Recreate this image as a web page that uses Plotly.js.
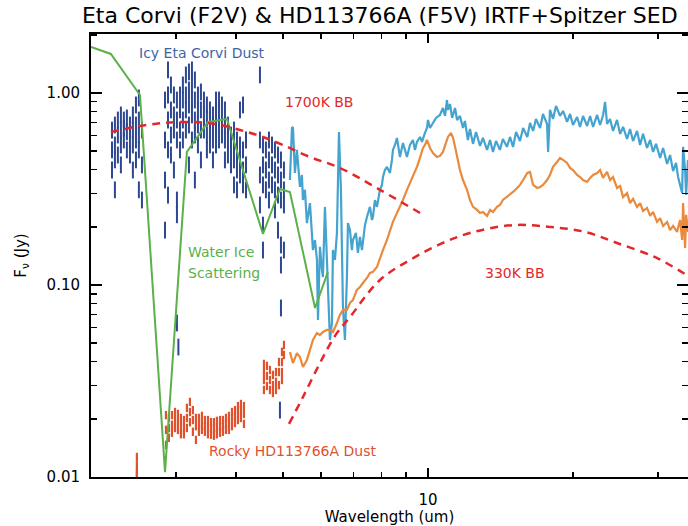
<!DOCTYPE html>
<html>
<head>
<meta charset="utf-8">
<script src="https://cdn.plot.ly/plotly-3.0.1.min.js"></script>
<style>
  html, body { margin: 0; padding: 0; background: #fff; }
  #sed { width: 688px; height: 526px; }
</style>
</head>
<body>
<div id="sed"></div>
<script>
// IRTF spectrum of Eta Corvi: one wavelength (um) per column, flux samples (Jy) in that column
const icyWave = [2.211, 2.242, 2.274, 2.307, 2.340, 2.374, 2.409, 2.443, 2.479, 2.514, 2.551,
  2.848, 2.889, 2.930, 2.972, 3.015, 3.059, 3.102, 3.147, 3.193, 3.239, 3.285, 3.333, 3.381,
  3.430, 3.479, 3.530, 3.581, 3.633, 3.685, 3.738, 3.792, 3.847, 3.903, 3.959, 4.016, 4.074,
  4.133, 4.193, 4.482, 4.547, 4.612, 4.679, 4.747, 4.815, 4.885, 4.955, 5.026, 3.036, 4.931];
const icyFlux = [
  [0.641, 0.505, 0.397], [0.681, 0.536, 0.448, 0.313], [0.723, 0.604, 0.475],
  [0.768, 0.641, 0.536, 0.422], [0.723, 0.657, 0.569], [0.741, 0.627, 0.505],
  [0.681, 0.569, 0.475], [0.768, 0.641, 0.536, 0.397], [0.866, 0.681, 0.569, 0.448],
  [0.942, 0.723, 0.604, 0.505, 0.313], [0.641, 0.422, 0.277],
  [0.919, 0.569, 0.352, 0.193], [1.318, 0.976, 0.723, 0.505, 0.294], [1.101, 0.816, 0.604, 0.475],
  [0.976, 0.768, 0.641, 0.397], [0.919, 0.723, 0.569, 0.277, 0.232, 0.0634], [0.976, 0.816, 0.641, 0.505],
  [1.101, 0.919, 0.723, 0.569], [1.241, 0.976, 0.816, 0.641], [1.286, 1.037, 0.866, 0.681, 0.422],
  [1.318, 1.101, 0.919, 0.768, 0.569], [1.169, 0.919, 0.723, 0.604, 0.352], [0.976, 0.816, 0.681, 0.536],
  [1.012, 0.816, 0.641, 0.448], [0.919, 0.768, 0.641], [0.866, 0.741, 0.604, 0.505],
  [0.816, 0.723, 0.641, 0.536], [0.768, 0.681, 0.569, 0.448], [0.919, 0.768, 0.641, 0.536],
  [0.919, 0.796, 0.681, 0.569], [0.866, 0.723, 0.604], [0.816, 0.681, 0.569, 0.448],
  [0.681, 0.569, 0.475], [0.604, 0.505, 0.422], [0.641, 0.536, 0.448, 0.332],
  [0.569, 0.475, 0.397, 0.313], [0.816, 0.536, 0.448, 0.374], [0.866, 0.505, 0.397, 0.332],
  [0.569, 0.422, 0.313],
  [1.241, 0.569, 0.374, 0.261], [0.536, 0.422, 0.332, 0.205, 0.152], [0.505, 0.397, 0.313],
  [0.569, 0.448, 0.352, 0.277], [0.536, 0.422, 0.332], [0.505, 0.397, 0.313, 0.246],
  [0.475, 0.374, 0.294, 0.193], [0.448, 0.352, 0.277, 0.1615, 0.127, 0.0759], [0.397, 0.313, 0.261, 0.152],
  [0.0475], [0.0223]];

// IRTF spectrum of HD113766A, same layout
const rockyWave = [2.490, 2.861, 2.902, 2.944, 2.987, 3.029, 3.073, 3.117, 3.162, 3.208, 3.254,
  3.301, 3.349, 3.397, 3.446, 3.496, 3.547, 3.597, 3.649, 3.703, 3.756, 3.810, 3.865, 3.921,
  3.978, 4.035, 4.093, 4.152, 4.568, 4.634, 4.701, 4.769, 4.838, 4.908, 4.979, 5.026];
const rockyFlux = [
  [0.0127, 0.0115, 0.0106, 0.0102],
  [0.0210, 0.0176, 0.0147], [0.0203, 0.0180, 0.0160], [0.0210, 0.0187, 0.0170], [0.0218, 0.0198, 0.0180],
  [0.0213, 0.0193, 0.0176], [0.0203, 0.0184, 0.0167], [0.0198, 0.0180, 0.0167], [0.0229, 0.0203, 0.0180],
  [0.0246, 0.0218, 0.0193], [0.0223, 0.0198, 0.0172], [0.0203, 0.0184, 0.0156], [0.0203, 0.0187, 0.0172],
  [0.0208, 0.0191, 0.0176], [0.0198, 0.0184, 0.0172], [0.0198, 0.0182, 0.0167], [0.0193, 0.0180, 0.0166],
  [0.0193, 0.0178, 0.0164], [0.0196, 0.0180, 0.0167], [0.0198, 0.0182, 0.0170], [0.0198, 0.0184, 0.0172],
  [0.0203, 0.0189, 0.0176], [0.0208, 0.0191, 0.0176], [0.0218, 0.0200, 0.0184], [0.0223, 0.0208, 0.0191],
  [0.0234, 0.0215, 0.0198], [0.0240, 0.0223, 0.0203], [0.0234, 0.0213, 0.0189],
  [0.0388, 0.0352, 0.0320, 0.0284], [0.0379, 0.0336, 0.0298], [0.0361, 0.0320, 0.0284],
  [0.0340, 0.0301, 0.0274], [0.0352, 0.0313, 0.0284], [0.0397, 0.0352, 0.0301],
  [0.0448, 0.0397, 0.0352, 0.0320], [0.0487, 0.0432]];

// Spitzer IRS spectrum of Eta Corvi
const etaIrsWave = [5.172, 5.222, 5.246, 5.297, 5.348, 5.374, 5.425, 5.477, 5.503, 5.556,
  5.609, 5.691, 5.746, 5.773, 5.829, 5.884, 5.913, 5.969, 6.026, 6.055,
  6.113, 6.172, 6.201, 6.261, 6.321, 6.351, 6.412, 6.474, 6.536, 6.598,
  6.662, 6.726, 6.790, 6.823, 6.889, 6.955, 6.988, 7.089, 7.155, 7.226,
  7.295, 7.330, 7.401, 7.472, 7.579, 7.652, 7.688, 7.762, 7.837, 7.950,
  8.026, 8.065, 8.142, 8.220, 8.339, 8.419, 8.459, 8.541, 8.623, 8.747,
  8.873, 8.959, 9.045, 9.175, 9.307, 9.397, 9.487, 9.625, 9.717, 9.857,
  9.952, 10.0, 10.096, 10.241, 10.39, 10.59, 10.74, 10.85, 10.95, 11.00,
  11.11, 11.22, 11.38, 11.49, 11.65, 11.82, 11.93, 12.10, 12.22, 12.40,
  12.58, 12.82, 13.00, 13.26, 13.45, 13.64, 13.84, 14.10, 14.30, 14.58,
  14.80, 15.01, 15.23, 15.52, 15.75, 16.07, 16.28, 16.52, 16.75, 17.08,
  17.32, 17.66, 17.75, 17.91, 18.17, 18.43, 18.79, 19.06, 19.43, 19.71,
  19.99, 20.38, 20.67, 20.97, 21.38, 21.69, 22.00, 22.43, 22.75, 23.08,
  23.30, 23.52, 23.86, 24.20, 24.67, 25.03, 25.39, 25.88, 26.25, 26.63,
  27.14, 27.54, 27.93, 28.47, 28.89, 29.30, 29.72, 30.30, 30.74, 31.33,
  31.78, 32.24, 32.70, 33.02, 33.34, 33.66, 33.82, 34.14, 34.31, 34.62];
const etaIrsFlux = [0.352, 0.657, 0.665, 0.383, 0.505, 0.432, 0.324, 0.374, 0.277, 0.313,
  0.210, 0.267, 0.1866, 0.152, 0.1715, 0.135, 0.0657, 0.158, 0.1197, 0.110,
  0.255, 0.130, 0.0942, 0.0517, 0.0634, 0.152, 0.135, 0.1866, 0.626, 0.313,
  0.0768, 0.0517, 0.110, 0.210, 0.193, 0.152, 0.1715, 0.1866, 0.147, 0.178,
  0.152, 0.1655, 0.205, 0.226, 0.255, 0.218, 0.226, 0.277, 0.255, 0.313,
  0.332, 0.365, 0.397, 0.412, 0.383, 0.448, 0.505, 0.536, 0.583, 0.464,
  0.549, 0.505, 0.464, 0.536, 0.569, 0.505, 0.556, 0.590, 0.556, 0.619,
  0.657, 0.723, 0.657, 0.698, 0.741, 0.768, 0.835, 0.759, 0.919, 0.816,
  0.876, 0.741, 0.835, 0.723, 0.759, 0.657, 0.715, 0.569, 0.649, 0.543,
  0.626, 0.530, 0.583, 0.505, 0.569, 0.493, 0.562, 0.505, 0.576, 0.524,
  0.590, 0.523, 0.626, 0.562, 0.657, 0.590, 0.698, 0.634, 0.732, 0.657,
  0.777, 0.689, 0.493, 0.816, 0.732, 0.856, 0.759, 0.806, 0.706, 0.777,
  0.681, 0.750, 0.665, 0.759, 0.673, 0.759, 0.665, 0.768, 0.681, 0.768,
  0.898, 0.689, 0.732, 0.634, 0.723, 0.612, 0.665, 0.576, 0.649, 0.562,
  0.634, 0.536, 0.612, 0.517, 0.569, 0.493, 0.543, 0.459, 0.517, 0.427,
  0.475, 0.392, 0.432, 0.365, 0.332, 0.301, 0.524, 0.397, 0.294, 0.448];

// Spitzer IRS spectrum of HD113766A
const hdIrsWave = [5.172, 5.246, 5.348, 5.425, 5.503, 5.609, 5.691, 5.773, 5.884, 5.969,
  6.055, 6.172, 6.261, 6.351, 6.474, 6.567, 6.662, 6.790, 6.889, 6.988,
  7.121, 7.226, 7.330, 7.472, 7.579, 7.688, 7.837, 7.950, 8.065, 8.220,
  8.339, 8.459, 8.623, 8.747, 8.873, 9.045, 9.175, 9.307, 9.487, 9.625,
  9.765, 9.857, 9.952, 10.096, 10.241, 10.44, 10.59, 10.74, 10.90, 11.00,
  11.16, 11.27, 11.38, 11.54, 11.65, 11.82, 12.05, 12.22, 12.40, 12.64,
  12.82, 13.00, 13.26, 13.45, 13.64, 13.91, 14.10, 14.30, 14.58, 14.80,
  15.01, 15.31, 15.52, 15.75, 16.07, 16.28, 16.52, 16.84, 17.08, 17.32,
  17.66, 17.91, 18.17, 18.52, 18.79, 19.06, 19.43, 19.71, 19.99, 20.38,
  20.67, 20.97, 21.38, 21.69, 22.00, 22.43, 22.75, 23.08, 23.52, 23.86,
  24.20, 24.67, 25.03, 25.39, 25.88, 26.25, 26.63, 27.14, 27.54, 27.93,
  28.47, 28.89, 29.30, 29.87, 30.30, 30.74, 31.33, 31.78, 32.24, 32.86,
  33.34, 33.66, 33.82, 34.14, 34.31, 34.62];
const hdIrsFlux = [0.0448, 0.0392, 0.0442, 0.0422, 0.0374, 0.0407, 0.0459, 0.0517, 0.0562, 0.0549,
  0.0569, 0.0583, 0.0583, 0.0569, 0.0634, 0.0698, 0.0741, 0.0741, 0.0806, 0.0835,
  0.0942, 0.0976, 0.1024, 0.1088, 0.1155, 0.117, 0.124, 0.138, 0.152, 0.1715,
  0.193, 0.213, 0.237, 0.255, 0.277, 0.313, 0.340, 0.365, 0.412, 0.459,
  0.517, 0.536, 0.569, 0.517, 0.487, 0.464, 0.470, 0.493, 0.549, 0.590,
  0.619, 0.583, 0.524, 0.448, 0.397, 0.352, 0.313, 0.277, 0.255, 0.246,
  0.237, 0.240, 0.229, 0.246, 0.240, 0.255, 0.261, 0.277, 0.287, 0.294,
  0.305, 0.320, 0.332, 0.352, 0.383, 0.388, 0.332, 0.320, 0.324, 0.332,
  0.352, 0.374, 0.412, 0.437, 0.459, 0.448, 0.432, 0.407, 0.397, 0.374,
  0.365, 0.352, 0.344, 0.361, 0.374, 0.383, 0.397, 0.361, 0.388, 0.352,
  0.365, 0.320, 0.328, 0.287, 0.301, 0.267, 0.281, 0.255, 0.267, 0.243,
  0.252, 0.229, 0.240, 0.213, 0.223, 0.203, 0.213, 0.193, 0.203, 0.189,
  0.218, 0.1715, 0.267, 0.156, 0.232, 0.189];

// Water ice scattering model
const iceWave = [2.0, 2.199, 2.527, 2.848, 3.162, 3.497, 3.828, 4.547, 4.931, 5.172, 5.831, 6.2];
const iceFlux = [1.736, 1.596, 0.976, 0.0106, 0.493, 0.706, 0.732, 0.1843, 0.316, 0.305, 0.0759, 0.117];

// Blackbody curves
const bb1700Wave = [2.199, 2.527, 2.848, 3.208, 3.614, 4.074, 4.482, 5.0, 5.691, 6.567, 7.95, 9.857];
const bb1700Flux = [0.626, 0.673, 0.698, 0.706, 0.689, 0.641, 0.597, 0.536, 0.464, 0.407, 0.313, 0.229];
const bb330Wave = [5.149, 5.505, 5.969, 6.414, 6.889, 7.95, 9.175, 10.59, 12.22, 15.01, 17.91, 21.17, 24.66, 29.87, 34.62];
const bb330Flux = [0.0189, 0.0261, 0.0392, 0.0543, 0.0681, 0.1062, 0.135, 0.163, 0.1866, 0.205, 0.2005, 0.189, 0.1655, 0.138, 0.1114];

// Expand column data into x/y point lists
function columns(wave, flux) {
  const x = [], y = [];
  wave.forEach((w, i) => flux[i].forEach(f => { x.push(w); y.push(f); }));
  return { x, y };
}

const NAVY = '#2d4792', ROCKY = '#e0522e', SKY = '#45a3cf', ORANGE = '#e98a3c',
      GREEN = '#5bb049', RED = '#e2282b';

const icy = columns(icyWave, icyFlux);
const rocky = columns(rockyWave, rockyFlux);

// Dense point clouds drawn as short vertical ticks
const dots = (pts, color, len, lw) => ({
  x: pts.x, y: pts.y, type: 'scatter', mode: 'markers', hoverinfo: 'skip',
  marker: { symbol: 'line-ns', size: len, color: color, line: { width: lw, color: color } }
});

const traces = [
  dots(icy, NAVY, 12, 2),
  dots(rocky, ROCKY, 6, 2.2),
  { x: etaIrsWave, y: etaIrsFlux, type: 'scatter', mode: 'lines', line: { color: SKY, width: 2.2 } },
  { x: hdIrsWave, y: hdIrsFlux, type: 'scatter', mode: 'lines', line: { color: ORANGE, width: 2.2 } },
  { x: iceWave, y: iceFlux, type: 'scatter', mode: 'lines', line: { color: GREEN, width: 2 } },
  { x: bb1700Wave, y: bb1700Flux, type: 'scatter', mode: 'lines',
    line: { color: RED, width: 2.5, dash: '8px,6px', shape: 'spline' } },
  { x: bb330Wave, y: bb330Flux, type: 'scatter', mode: 'lines',
    line: { color: RED, width: 2.5, dash: '8px,6px', shape: 'spline' } }
];

const axisCommon = {
  type: 'log', showline: true, linecolor: '#000', linewidth: 2, mirror: 'allticks',
  ticks: 'inside', tickcolor: '#000', tickwidth: 1.5, showgrid: false, zeroline: false,
  tickfont: { size: 15, color: '#000' }
};

const label = (text, x, y, color, anchor) => ({
  text: text, xref: 'paper', yref: 'paper', x: x, y: y, xanchor: anchor || 'center',
  yanchor: 'middle', showarrow: false, font: { size: 14, color: color }
});

const layout = {
  width: 688, height: 526,
  margin: { l: 91, r: 0, t: 34, b: 49 },
  paper_bgcolor: '#fff', plot_bgcolor: '#fff',
  showlegend: false,
  font: { family: 'DejaVu Sans', color: '#000' },
  title: {
    text: 'Eta Corvi (F2V) &amp; HD113766A (F5V) IRTF+Spitzer SED',
    font: { size: 22, color: '#000' },
    xref: 'container', x: 0.552, xanchor: 'center',
    yref: 'container', y: 0.971, yanchor: 'middle'
  },
  xaxis: Object.assign({}, axisCommon, {
    range: [Math.log10(2), Math.log10(34.62)],
    tickvals: [10], ticktext: ['10'], ticklen: 9, ticklabelstandoff: 8,
    minor: { ticks: 'inside', ticklen: 5, tickwidth: 1.5, tickcolor: '#000',
             tickmode: 'array', tickvals: [3, 4, 5, 6, 7, 8, 9, 20, 30], showgrid: false },
    title: { text: 'Wavelength (um)', font: { size: 15 }, standoff: 6 }
  }),
  yaxis: Object.assign({}, axisCommon, {
    range: [-2, 0.307],
    tickvals: [0.01, 0.1, 1], ticktext: ['0.01', '0.10', '1.00'], ticklen: 11, ticklabelstandoff: 6,
    minor: { ticks: 'inside', ticklen: 6, tickwidth: 1.5, tickcolor: '#000', tickmode: 'array',
             tickvals: [0.02, 0.03, 0.04, 0.05, 0.06, 0.07, 0.08, 0.09, 0.2, 0.3, 0.4, 0.5, 0.6, 0.7, 0.8, 0.9, 2],
             showgrid: false },
    title: { text: 'F<sub>ν</sub> (Jy)', font: { size: 15 }, standoff: 16 }
  }),
  annotations: [
    label('Icy Eta Corvi Dust', 0.186, 0.957, '#3d66a6'),
    label('1700K BB', 0.382, 0.846, RED),
    label('Water Ice', 0.159, 0.508, GREEN, 'left'),
    label('Scattering', 0.159, 0.4605, GREEN, 'left'),
    label('330K BB', 0.710, 0.4605, RED),
    label('Rocky HD113766A Dust', 0.338, 0.0587, ROCKY)
  ]
};

Plotly.newPlot('sed', traces, layout, { displayModeBar: false, staticPlot: true });
</script>
</body>
</html>
